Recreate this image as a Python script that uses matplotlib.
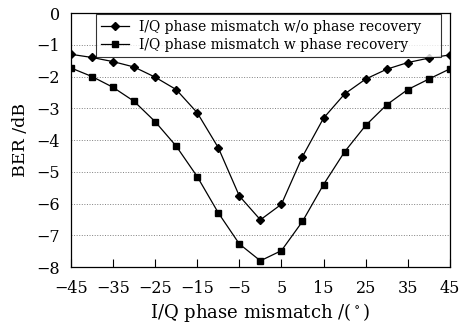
import numpy as np
import matplotlib
matplotlib.use('Agg')
import matplotlib.pyplot as plt

plt.rcParams['font.family'] = ['DejaVu Serif']
plt.rcParams['mathtext.fontset'] = 'dejavuserif'

# phase mismatch (deg)
phase = [-45, -40, -35, -30, -25, -20, -15, -10, -5, 0,
         5, 10, 15, 20, 25, 30, 35, 40, 45]
# BER (dB) without phase recovery
ber_wo = [-1.30, -1.40, -1.53, -1.70, -2.02, -2.41, -3.14, -4.24, -5.76, -6.51,
          -6.02, -4.52, -3.31, -2.55, -2.08, -1.77, -1.56, -1.42, -1.32]
# BER (dB) with phase recovery
ber_w = [-1.73, -2.00, -2.34, -2.78, -3.42, -4.19, -5.15, -6.29, -7.27, -7.80,
         -7.48, -6.56, -5.40, -4.37, -3.54, -2.89, -2.41, -2.08, -1.76]

xticks = [-45, -35, -25, -15, -5, 5, 15, 25, 35, 45]
yticks = [0, -1, -2, -3, -4, -5, -6, -7, -8]

fig = plt.figure(figsize=(4.73, 3.25), dpi=100)
ax = fig.add_axes([0.150, 0.178, 0.801, 0.782])

ax.plot(phase, ber_wo, color='black', lw=0.9, marker='D', ms=4.2,
        label='I/Q phase mismatch w/o phase recovery')
ax.plot(phase, ber_w, color='black', lw=0.9, marker='s', ms=5,
        label='I/Q phase mismatch w phase recovery')

ax.set_xlim(-45, 45)
ax.set_ylim(-8, 0)
ax.set_xticks(xticks)
ax.set_yticks(yticks)
ax.set_xticklabels(['\u2212%d' % -v if v < 0 else str(v) for v in xticks])
ax.set_yticklabels(['\u2212%d' % -v if v < 0 else str(v) for v in yticks])
ax.tick_params(axis='x', direction='in', length=6, width=0.8, labelsize=11.5, pad=9)
ax.tick_params(axis='y', length=0, labelsize=11.5, pad=8)
ax.yaxis.grid(True, linestyle=':', color='gray', lw=0.7)
for s in ax.spines.values():
    s.set_linewidth(0.9)

ax.set_xlabel('I/Q phase mismatch /($^\\circ$)', fontsize=13, labelpad=3)
ax.set_ylabel('BER /dB', fontsize=12.5, labelpad=5)

leg = ax.legend(loc='upper left', bbox_to_anchor=(0.065, 0.5, 0.913, 0.496),
                mode='expand', fontsize=10,
                frameon=True, fancybox=False, edgecolor='black',
                borderpad=0.4, handlelength=2.0, handletextpad=0.7,
                labelspacing=0.3, borderaxespad=0.0)
leg.get_frame().set_linewidth(0.8)

fig.savefig('out.png', dpi=100)
